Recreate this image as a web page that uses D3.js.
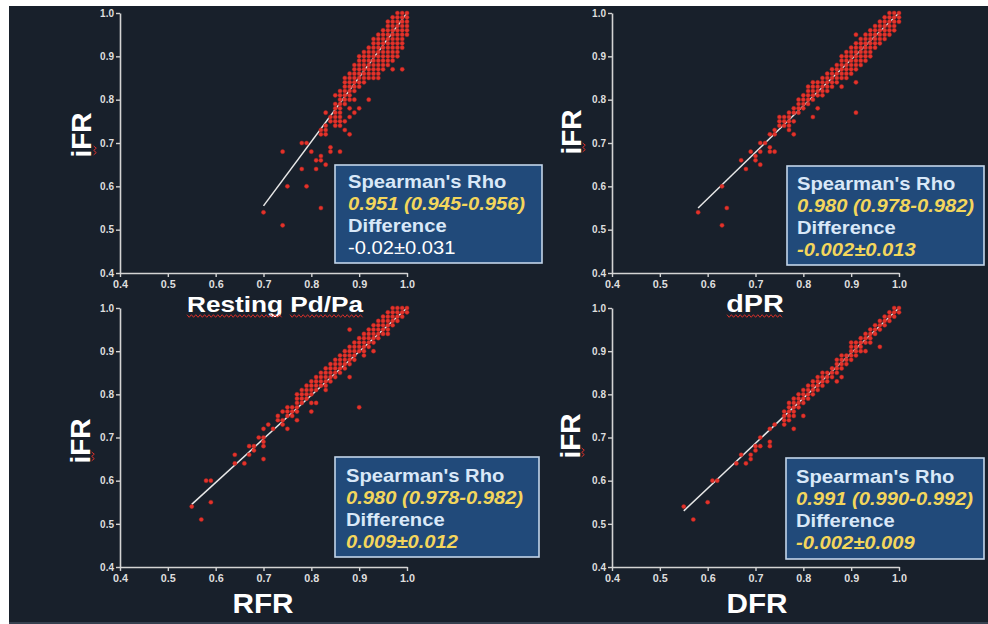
<!DOCTYPE html>
<html><head><meta charset="utf-8">
<script src="https://cdn.jsdelivr.net/npm/d3@7"></script>
<style>html,body{margin:0;padding:0;background:#fff;}svg{display:block;}</style>
</head><body>
<svg id="chart" width="988" height="624"></svg>
<script>
// ---------- DATA (values in hundredths: [iFR, [x values...]]) ----------
const rowsPdpa = [
 [100,[98,99,100]],[99,[97,98,99,100]],[98,[96,97,98,99,100]],[97,[96,97,98,99,100]],
 [96,[95,96,97,98,99,100]],[95,[94,95,96,97,98,99,100]],[94,[93,94,95,96,97,98,99]],
 [93,[93,94,95,96,97,98,99]],[92,[92,93,94,95,96,97,98,99]],[91,[91,92,93,94,95,96,97,98]],
 [90,[90,91,92,93,94,95,96,97,98]],[89,[90,91,92,93,94,95,96,97]],[88,[89,90,91,92,93,94,95,96]],
 [87,[89,90,91,92,93,94,95,97,99]],[86,[88,89,90,91,92,93,94]],[85,[87,88,89,90,91,92,93,94]],
 [84,[87,88,89,90,91]],[83,[87,88,89,90]],[82,[86,87,88,89]],[81,[85,86,87,88]],
 [80,[86,87,88,89,92]],[79,[85,86,87]],[78,[85,86,88,90]],[77,[83,85,86,89]],[76,[84,85,86,88]],
 [75,[84,85,86,87]],[74,[83,85,86]],[73,[82,83,87]],[72,[82,83,88]],[70,[78,79]],[69,[84]],
 [68,[74,80,84,86]],[67,[82]],[66,[81,82]],[65,[83]],[64,[78,81]],[60,[75,79]],[55,[82]],[54,[70]],[51,[74]]
];
const rowsDpr = [
 [100,[98,99,100]],[99,[97,98,99,100]],[98,[96,97,98,99,100]],[97,[95,96,97,98,99]],
 [96,[94,95,96,97,98,99]],[95,[91,93,94,95,96,97,98]],[94,[92,93,94,95,96,97]],[93,[91,92,93,94,95,96]],
 [92,[90,91,92,93,94,95]],[91,[89,90,91,92,93,94]],[90,[88,89,90,91,92,93,94]],[89,[88,89,90,91,92,93]],
 [88,[87,88,89,90,91,92]],[87,[86,87,88,89,90,91]],[86,[85,86,87,88,89,90]],[85,[84,85,86,87,88,89]],
 [84,[82,83,84,85,86,87,91]],[83,[81,82,83,84,85,86,88]],[82,[81,82,83,84,85]],[81,[80,81,82,83,84]],
 [80,[79,80,81,82]],[79,[79,80,81]],[78,[78,79,80,83]],[77,[77,78,79,91]],[76,[75,76,77,82]],
 [75,[75,76,77,78]],[74,[75,76,77]],[73,[74,77]],[72,[73,74,78]],[70,[71,72]],[69,[73]],
 [68,[69,71,73,74]],[67,[70]],[66,[67,70]],[65,[71]],[64,[68]],[60,[63]],[55,[64]],[54,[58]],[51,[63]]
];
const rowsRfr = [
 [100,[97,98,99,100]],[99,[96,97,98,99,100]],[98,[95,96,97,98,99]],[97,[94,95,96,97,98]],
 [96,[93,94,95,96,97]],[95,[88,92,93,94,95,96]],[94,[91,92,93,94,95,96]],[93,[90,91,92,93,94]],
 [92,[89,90,91,92,93]],[91,[88,89,90,91,92]],[90,[87,88,89,90,91,93]],[89,[86,87,88,89,91]],
 [88,[85,86,87,88,89]],[87,[84,85,86,87,88]],[86,[83,84,85,86,87]],[85,[82,83,84,85,86]],
 [84,[81,82,83,84,85,88]],[83,[80,81,82,83,84]],[82,[79,80,81,82,83]],[81,[78,79,80,81,83]],
 [80,[77,78,79,80]],[79,[77,78,79]],[78,[77,78,80,81]],[77,[75,76,77,90]],[76,[74,75,76,77,80]],
 [75,[73,75,76]],[74,[73,74,77]],[73,[71,74]],[72,[70,72,75]],[70,[69,70]],[69,[70]],
 [68,[67,68,70]],[67,[68]],[66,[64,67]],[65,[70]],[64,[64,66]],[60,[58,59]],[55,[59]],[54,[55]],[51,[57]]
];
const rowsDfr = [
 [100,[99,100]],[99,[98,99,100]],[98,[97,98,99]],[97,[96,97,98]],[96,[95,96,97]],[95,[94,95,96]],
 [94,[93,94,95]],[93,[92,93,94]],[92,[90,91,92,93,94]],[91,[90,91,92,96]],[90,[90,91,92,93]],
 [89,[88,89,90,91]],[88,[87,88,89,90]],[87,[87,88,89]],[86,[86,87,88]],[85,[84,85,86,87]],
 [84,[83,84,85,86,88]],[83,[82,83,84,85,87]],[82,[81,82,83,84]],[81,[80,81,82,83]],[80,[79,80,81,82]],
 [79,[78,79,80,81]],[78,[77,78,79,80]],[77,[77,78,79]],[76,[76,77,78]],[75,[76,77,78,80]],
 [74,[76,77]],[73,[74,76]],[72,[73,78]],[70,[71]],[69,[73]],[68,[70,71,73]],[67,[70]],
 [66,[67,69]],[65,[69]],[64,[66,68]],[60,[61,62]],[55,[60]],[54,[55]],[51,[57]]
];
const fitPdpa = [[0.70,0.555],[1.0,1.0]];
const fitDpr  = [[0.58,0.55],[1.0,1.0]];
const fitRfr  = [[0.55,0.545],[1.0,1.0]];
const fitDfr  = [[0.55,0.53],[1.0,1.0]];
const xTitles = ["Resting Pd/Pa","dPR","RFR","DFR"];
const yTitle = "iFR";
const rhoLabel = "Spearman's Rho";
const rhoTexts = ["0.951 (0.945-0.956)","0.980 (0.978-0.982)","0.980 (0.978-0.982)","0.991 (0.990-0.992)"];
const diffLabel = "Difference";
const diffTexts = ["-0.02\u00b10.031","-0.002\u00b10.013","0.009\u00b10.012","-0.002\u00b10.009"];
const tickValues = [0.4,0.5,0.6,0.7,0.8,0.9,1.0];
const domain = [0.4,1.0];

// ---------- LAYOUT ----------
const svg = d3.select("#chart");
const FONT = "'Liberation Sans', Arial, Helvetica, sans-serif";
svg.append("rect").attr("x",0).attr("y",0).attr("width",988).attr("height",624).attr("fill","#ffffff");
svg.append("rect").attr("x",9).attr("y",6).attr("width",979).attr("height",618).attr("fill","#18202b");
svg.append("rect").attr("x",9).attr("y",622).attr("width",979).attr("height",2).attr("fill","#37414f");

const panels = [
 {rows:rowsPdpa, fit:fitPdpa, xr:[120,407], yr:[273,13], box:[335,165,207,98], tx:348, base:188, ttl:[275,312,22,1.19], yt:[91,135], diffPlain:true,
  squig:[[187,283,316],[290,363,316]], ysq:[95,146,156]},
 {rows:rowsDpr, fit:fitDpr, xr:[612,899], yr:[273,13], box:[787,166,197,99], tx:797, base:190, ttl:[755,312,24,1.2], yt:[581,132],
  squig:[[727,783,316]], ysq:[584,143,153]},
 {rows:rowsRfr, fit:fitRfr, xr:[120,407], yr:[567,308], box:[335,457,204,100], tx:346, base:482, ttl:[263,613,27,1.1], yt:[90,441], squig:[], ysq:[93,452,462]},
 {rows:rowsDfr, fit:fitDfr, xr:[612,899], yr:[567,308], box:[786,458,198,101], tx:796, base:483, ttl:[757,613,27,1.1], yt:[580,436], squig:[], ysq:[583,448,457]}
];

function sText(g, x, y, s, size, sx, opt={}) {
  return g.append("text")
    .attr("transform", `translate(${x},${y}) scale(${sx},1)`)
    .attr("font-family", FONT).attr("font-size", size)
    .attr("font-weight", opt.weight || "bold")
    .attr("font-style", opt.style || "normal")
    .attr("fill", opt.fill || "#ffffff")
    .attr("text-anchor", opt.anchor || "start")
    .text(s);
}
function squiggle(g, x0, x1, y, vertical) {
  const pts = [];
  let k = 0;
  for (let t = x0; t <= x1; t += 2.2, k++) {
    const o = (k % 2 ? 1.3 : -1.3);
    pts.push(vertical ? [y + o, t] : [t, y + o]);
  }
  g.append("path").attr("d", d3.line()(pts)).attr("fill","none").attr("stroke","#d8302a").attr("stroke-width",1);
}

panels.forEach((p, i) => {
  const g = svg.append("g");
  const x = d3.scaleLinear().domain(domain).range(p.xr);
  const y = d3.scaleLinear().domain(domain).range(p.yr);

  // axes
  const ax = g.append("g").attr("transform", `translate(0,${p.yr[0]})`)
    .call(d3.axisBottom(x).tickValues(tickValues).tickFormat(d3.format(".1f")).tickSize(4).tickSizeOuter(0).tickPadding(4));
  const ay = g.append("g").attr("transform", `translate(${p.xr[0]},0)`)
    .call(d3.axisLeft(y).tickValues(tickValues).tickFormat(d3.format(".1f")).tickSize(4).tickSizeOuter(0).tickPadding(2));
  [ax, ay].forEach(a => {
    a.selectAll("path.domain").attr("stroke","#d4d4d4").attr("stroke-width",1.6);
    a.selectAll(".tick line").attr("stroke","#d4d4d4").attr("stroke-width",1.4);
    a.selectAll(".tick text").attr("fill","#dedede").attr("font-family",FONT)
      .attr("font-size",10).attr("font-weight","bold");
  });
  ax.selectAll(".tick text").attr("transform","scale(1.08,1)");

  // fit line
  g.append("path").attr("d", d3.line().x(d=>x(d[0])).y(d=>y(d[1]))(p.fit))
    .attr("stroke","#e8e8e8").attr("stroke-width",1.5).attr("fill","none");

  // points
  const pts = [];
  p.rows.forEach(([yv, xs]) => xs.forEach(xv => pts.push([xv/100, yv/100])));
  g.append("g").selectAll("circle").data(pts).join("circle")
    .attr("cx", d=>x(d[0])).attr("cy", d=>y(d[1])).attr("r", 2.1)
    .attr("fill","#e3332b").attr("stroke","#b5241f").attr("stroke-width",0.4);

  // titles
  sText(g, p.ttl[0], p.ttl[1], xTitles[i], p.ttl[2], p.ttl[3], {anchor:"middle"});
  g.append("text").attr("transform", `translate(${p.yt[0]},${p.yt[1]}) rotate(-90)`)
    .attr("font-family",FONT).attr("font-size",28).attr("font-weight","bold").attr("fill","#ffffff")
    .attr("text-anchor","middle").text(yTitle);
  p.squig.forEach(s => squiggle(g, s[0], s[1], s[2], false));
  squiggle(g, p.ysq[1], p.ysq[2], p.ysq[0], true);

  // stats box
  const b = p.box;
  g.append("rect").attr("x",b[0]).attr("y",b[1]).attr("width",b[2]).attr("height",b[3])
    .attr("fill","#214a7a").attr("stroke","#c3d5ea").attr("stroke-width",1.6);
  sText(g, p.tx, p.base, rhoLabel, 18, 1.12, {fill:"#d9e8f8"});
  sText(g, p.tx, p.base+22, rhoTexts[i], 18, 1.12, {fill:"#f3d65c", style:"italic"});
  sText(g, p.tx, p.base+44, diffLabel, 18, 1.12, {fill:"#d9e8f8"});
  if (p.diffPlain) sText(g, p.tx, p.base+66, diffTexts[i], 18, 1.12, {fill:"#ffffff", weight:"normal"});
  else sText(g, p.tx, p.base+66, diffTexts[i], 18, 1.12, {fill:"#f3d65c", style:"italic"});
});
</script>
</body></html>
